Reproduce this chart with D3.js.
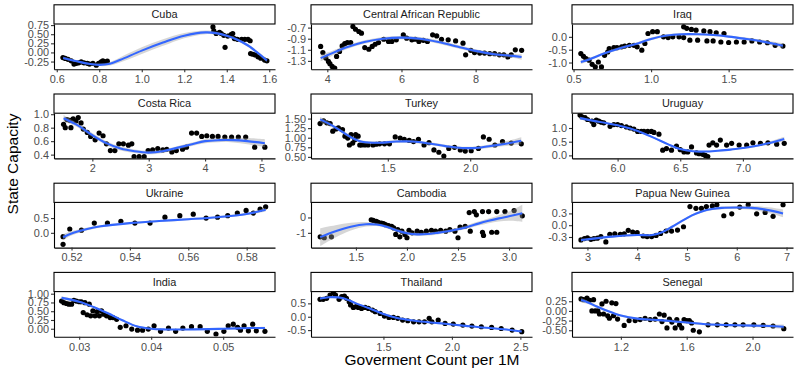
<!DOCTYPE html>
<html>
<head>
<meta charset="utf-8">
<script src="https://cdnjs.cloudflare.com/ajax/libs/d3/7.8.5/d3.min.js"></script>
<style>
    body { margin: 0; background: #fff; }
    svg { display: block; font-family: "Liberation Sans", Arial, sans-serif; }
</style>
</head>
<body>
<svg width="798" height="372"></svg>
<script>
// facet order, left to right, top to bottom
let countries = ['Cuba', 'Central African Republic', 'Iraq',
                 'Costa Rica', 'Turkey', 'Uruguay',
                 'Ukraine', 'Cambodia', 'Papua New Guinea',
                 'India', 'Thailand', 'Senegal'];

// points are [gov count per 1M, state capacity]
// fits are [x, loess fit, half width of the band]
let cubaPts = [[0.629,-0.14],[0.64,-0.165],[0.653,-0.19],[0.668,-0.23],[0.681,-0.32],[0.692,-0.30],[0.703,-0.285],
    [0.715,-0.26],[0.728,-0.285],[0.744,-0.30],[0.754,-0.32],[0.77,-0.30],[0.786,-0.35],[0.797,-0.30],[0.809,-0.26],
    [0.817,-0.23],[0.828,-0.26],[0.838,-0.24],[1.335,0.70],[1.339,0.59],[1.35,0.52],[1.366,0.55],[1.374,0.52],
    [1.386,0.47],[1.392,0.14],[1.405,0.45],[1.42,0.49],[1.428,0.52],[1.436,0.38],[1.45,0.36],[1.47,0.36],[1.485,0.36],
    [1.50,0.36],[1.51,0.32],[1.512,-0.03],[1.523,-0.05],[1.534,-0.07],[1.547,-0.12],[1.56,-0.16],[1.578,-0.21],[1.589,-0.23]];
let cubaFit = [[0.63,-0.15,0.04],[0.70,-0.25,0.03],[0.75,-0.31,0.03],[0.80,-0.34,0.035],[0.85,-0.31,0.05],
    [0.90,-0.20,0.07],[1.0,0.05,0.09],[1.1,0.27,0.09],[1.2,0.46,0.07],[1.3,0.55,0.05],[1.35,0.53,0.04],[1.4,0.46,0.035],
    [1.45,0.35,0.035],[1.5,0.19,0.04],[1.55,-0.03,0.04],[1.589,-0.22,0.05]];

let carPts = [[3.82,-1.04],[3.88,-1.15],[3.96,-1.25],[4.03,-1.31],[4.07,-1.35],[4.13,-1.40],[4.2,-1.43],[4.25,-1.22],
    [4.33,-1.13],[4.4,-1.03],[4.47,-0.99],[4.54,-0.97],[4.63,-0.97],[4.69,-0.68],[4.76,-0.73],[4.85,-0.77],[4.92,-0.80],
    [5.01,-1.06],[5.12,-1.09],[5.21,-1.04],[5.29,-1.0],[5.38,-0.97],[5.52,-0.91],[5.65,-0.95],[5.74,-0.95],[5.86,-0.92],
    [6.05,-0.83],[6.14,-0.89],[6.28,-0.92],[6.37,-0.91],[6.47,-0.95],[6.59,-0.93],[6.7,-0.95],[6.84,-0.83],[6.95,-0.85],
    [7.08,-0.91],[7.26,-0.92],[7.46,-0.94],[7.66,-0.98],[7.73,-1.19],[7.87,-1.11],[7.97,-1.15],[8.11,-1.16],[8.24,-1.16],
    [8.38,-1.17],[8.51,-1.17],[8.64,-1.19],[8.76,-1.19],[8.87,-1.23],[8.96,-1.19],[9.07,-1.10],[9.24,-1.11]];
let carFit = [[3.82,-1.25,0.06],[4.0,-1.2,0.05],[4.5,-1.06,0.035],[5.0,-0.96,0.03],[5.5,-0.9,0.03],[6.0,-0.88,0.03],
    [6.5,-0.9,0.03],[7.0,-0.96,0.03],[7.5,-1.04,0.03],[8.0,-1.12,0.03],[8.5,-1.18,0.03],[9.0,-1.21,0.035],[9.24,-1.23,0.05]];

let iraqPts = [[0.547,-0.65],[0.564,-0.76],[0.58,-0.85],[0.6,-0.91],[0.62,-1.07],[0.64,-1.17],[0.66,-0.98],[0.68,-1.17],
    [0.70,-0.72],[0.72,-0.59],[0.73,-0.46],[0.76,-0.42],[0.78,-0.42],[0.81,-0.39],[0.83,-0.36],[0.86,-0.33],[0.89,-0.33],
    [0.91,-0.39],[0.94,-0.52],[0.96,-0.26],[0.98,0.13],[1.01,0.2],[1.04,0.2],[1.08,0.0],[1.11,-0.03],[1.14,0.0],[1.18,0.0],
    [1.21,0.39],[1.23,0.33],[1.21,-0.03],[1.25,-0.13],[1.26,0.29],[1.29,0.26],[1.30,-0.13],[1.34,0.23],[1.36,-0.16],
    [1.38,0.2],[1.40,-0.16],[1.42,0.16],[1.45,-0.2],[1.47,0.13],[1.5,-0.22],[1.55,-0.2],[1.60,-0.2],[1.65,-0.16],
    [1.70,-0.2],[1.75,-0.23],[1.8,-0.33],[1.85,-0.36]];
let iraqFit = [[0.547,-0.98,0.08],[0.6,-0.88,0.06],[0.7,-0.64,0.05],[0.8,-0.44,0.05],[0.9,-0.28,0.05],[1.0,-0.08,0.05],
    [1.1,0.05,0.05],[1.2,0.1,0.05],[1.3,0.1,0.04],[1.4,0.07,0.04],[1.5,0.01,0.04],[1.6,-0.07,0.05],[1.7,-0.16,0.06],
    [1.8,-0.28,0.08],[1.85,-0.35,0.1]];

let costaPts = [[1.49,0.85],[1.52,0.80],[1.55,0.92],[1.6,0.91],[1.62,0.80],[1.66,0.93],[1.71,0.90],[1.75,0.95],[1.80,0.87],
    [1.84,0.78],[1.91,0.73],[1.97,0.67],[2.05,0.62],[2.12,0.72],[2.19,0.68],[2.25,0.56],[2.32,0.46],[2.4,0.46],[2.47,0.56],
    [2.55,0.56],[2.64,0.54],[2.70,0.56],[2.74,0.37],[2.83,0.37],[2.92,0.37],[2.99,0.46],[3.07,0.47],[3.16,0.49],[3.25,0.47],
    [3.32,0.48],[3.41,0.44],[3.49,0.46],[3.6,0.48],[3.67,0.51],[3.76,0.72],[3.85,0.72],[3.94,0.67],[4.03,0.68],[4.13,0.67],
    [4.23,0.67],[4.35,0.66],[4.47,0.66],[4.59,0.66],[4.72,0.66],[4.88,0.51],[5.06,0.51]];
let costaFit = [[1.49,0.94,0.05],[1.75,0.83,0.03],[2.0,0.69,0.03],[2.25,0.57,0.03],[2.5,0.49,0.03],[2.75,0.45,0.025],
    [3.0,0.43,0.025],[3.25,0.45,0.025],[3.5,0.5,0.025],[3.75,0.55,0.025],[4.0,0.6,0.03],[4.25,0.615,0.03],[4.5,0.615,0.035],
    [4.75,0.6,0.045],[5.06,0.57,0.06]];

let turkeyPts = [[1.089,1.37],[1.11,1.44],[1.13,1.39],[1.15,1.37],[1.166,1.17],[1.186,1.23],[1.2,1.26],[1.225,1.21],
    [1.24,1.04],[1.257,0.99],[1.267,0.81],[1.277,1.08],[1.287,0.86],[1.30,0.95],[1.305,1.08],[1.32,1.04],[1.33,0.81],
    [1.34,0.81],[1.36,0.81],[1.38,0.81],[1.41,0.81],[1.43,0.83],[1.45,0.84],[1.48,0.84],[1.51,0.84],[1.545,1.02],
    [1.575,0.99],[1.60,0.96],[1.63,0.93],[1.656,0.90],[1.686,0.96],[1.72,0.81],[1.75,0.87],[1.78,0.68],[1.81,0.62],
    [1.84,0.52],[1.87,0.72],[1.905,0.75],[1.94,0.68],[1.97,0.65],[2.006,0.66],[2.05,0.72],[2.08,1.02],[2.115,0.96],
    [2.15,0.81],[2.196,0.90],[2.249,0.86],[2.31,0.84]];
let turkeyFit = [[1.089,1.48,0.07],[1.15,1.35,0.05],[1.2,1.22,0.04],[1.25,1.08,0.04],[1.3,0.96,0.035],[1.35,0.89,0.035],
    [1.45,0.87,0.035],[1.55,0.9,0.035],[1.65,0.9,0.035],[1.75,0.85,0.035],[1.85,0.78,0.035],[1.95,0.73,0.035],
    [2.05,0.74,0.04],[2.15,0.8,0.05],[2.25,0.87,0.07],[2.31,0.92,0.09]];

let uruguayPts = [[5.70,1.475],[5.715,1.41],[5.74,1.375],[5.76,1.31],[5.795,1.25],[5.81,1.125],[5.83,1.29],[5.85,1.25],
    [5.87,1.21],[5.89,1.19],[5.94,1.06],[5.97,1.125],[6.0,1.125],[6.03,1.09],[6.07,1.04],[6.1,1.0],[6.13,0.96],[6.16,0.875],
    [6.19,0.875],[6.21,0.875],[6.24,0.875],[6.27,0.875],[6.29,0.84],[6.33,0.775],[6.36,0.19],[6.39,0.25],[6.43,0.19],
    [6.47,0.34],[6.5,0.21],[6.53,0.125],[6.56,0.125],[6.59,0.31],[6.63,0.09],[6.65,0.06],[6.68,0.04],[6.70,0.0],
    [6.72,-0.04],[6.73,0.375],[6.76,0.46],[6.79,0.375],[6.82,0.56],[6.87,0.375],[6.91,0.44],[6.97,0.375],[7.03,0.375],
    [7.08,0.46],[7.14,0.44],[7.2,0.46],[7.27,0.41],[7.33,0.44]];
let uruguayFit = [[5.70,1.36,0.05],[5.8,1.27,0.03],[5.9,1.19,0.03],[6.0,1.1,0.03],[6.1,0.98,0.03],[6.2,0.82,0.03],
    [6.3,0.62,0.03],[6.4,0.41,0.03],[6.5,0.23,0.03],[6.6,0.15,0.03],[6.7,0.14,0.03],[6.8,0.17,0.03],[6.9,0.21,0.03],
    [7.0,0.27,0.035],[7.1,0.34,0.04],[7.2,0.44,0.05],[7.33,0.6,0.08]];

let ukrainePts = [[0.5171,-0.39],[0.5171,-0.13],[0.5194,0.13],[0.5234,0.09],[0.5278,0.33],[0.5323,0.33],[0.5369,0.39],
    [0.5417,0.33],[0.5469,0.33],[0.552,0.53],[0.5571,0.58],[0.5617,0.63],[0.5661,0.5],[0.570,0.53],[0.5735,0.58],
    [0.5768,0.67],[0.5798,0.76],[0.5823,0.67],[0.5846,0.8],[0.5865,0.88]];
let ukraineFit = [[0.5171,-0.15,0.1],[0.52,-0.02,0.07],[0.525,0.12,0.05],[0.53,0.22,0.04],[0.54,0.33,0.035],
    [0.55,0.4,0.035],[0.56,0.46,0.035],[0.57,0.53,0.035],[0.58,0.64,0.04],[0.5865,0.78,0.06]];

let cambodiaPts = [[1.15,-1.26],[1.19,-1.32],[1.26,-1.26],[1.65,-0.15],[1.67,-0.19],[1.70,-0.26],[1.72,-0.32],[1.75,-0.36],
    [1.77,-0.4],[1.79,-0.47],[1.82,-0.53],[1.85,-0.57],[1.87,-0.68],[1.89,-1.1],[1.91,-0.79],[1.93,-1.26],[1.95,-0.89],
    [1.98,-1.1],[2.0,-1.32],[2.02,-0.83],[2.05,-1.0],[2.1,-0.89],[2.14,-0.96],[2.19,-0.89],[2.24,-0.83],[2.28,-0.89],
    [2.33,-0.83],[2.38,-0.89],[2.42,-0.79],[2.47,-0.89],[2.5,-1.32],[2.52,-0.62],[2.57,-0.57],[2.62,-0.89],[2.61,0.32],
    [2.66,0.38],[2.68,0.17],[2.74,0.38],[2.74,-0.96],[2.75,-1.17],[2.8,0.38],[2.83,-0.96],[2.88,-0.96],[2.88,0.38],
    [2.96,0.38],[3.05,0.45],[3.13,0.11]];
let cambodiaFit = [[1.15,-1.28,0.58],[1.3,-0.9,0.4],[1.45,-0.6,0.25],[1.6,-0.44,0.15],[1.7,-0.46,0.1],[1.8,-0.6,0.1],
    [1.9,-0.84,0.1],[2.0,-1.03,0.1],[2.1,-1.1,0.1],[2.2,-1.08,0.1],[2.3,-1.0,0.1],[2.4,-0.9,0.1],[2.5,-0.77,0.1],
    [2.6,-0.6,0.12],[2.7,-0.4,0.13],[2.8,-0.22,0.15],[2.9,-0.06,0.2],[3.0,0.08,0.3],[3.13,0.27,0.55]];

let pngPts = [[2.87,-0.375],[2.94,-0.34],[3.0,-0.32],[3.07,-0.36],[3.13,-0.34],[3.2,-0.33],[3.27,-0.29],[3.37,-0.425],
    [3.45,-0.23],[3.55,-0.22],[3.66,-0.23],[3.74,-0.22],[3.82,-0.13],[3.91,-0.175],[4.0,-0.19],[4.12,-0.275],[4.2,-0.29],
    [4.29,-0.29],[4.38,-0.26],[4.47,-0.21],[4.58,-0.15],[4.69,-0.15],[4.81,-0.125],[4.93,-0.04],[5.06,0.475],[5.18,0.43],
    [5.29,0.43],[5.39,0.475],[5.51,0.49],[5.6,0.52],[5.74,0.24],[5.9,0.29],[6.06,0.46],[6.23,0.52],[6.4,0.29],
    [6.57,0.325],[6.73,0.225],[6.93,0.52]];
let pngFit = [[2.87,-0.38,0.04],[3.0,-0.36,0.03],[3.5,-0.29,0.025],[4.0,-0.25,0.025],[4.3,-0.25,0.025],[4.5,-0.18,0.025],
    [4.7,-0.04,0.03],[4.9,0.11,0.03],[5.1,0.25,0.03],[5.3,0.35,0.03],[5.5,0.41,0.03],[5.7,0.44,0.035],[6.0,0.45,0.04],
    [6.3,0.44,0.05],[6.6,0.39,0.07],[6.93,0.3,0.1]];

let indiaPts = [[0.02755,0.79],[0.02787,0.745],[0.02824,0.72],[0.02856,0.70],[0.02894,0.70],[0.02926,0.81],[0.0296,0.79],
    [0.03,0.77],[0.0303,0.77],[0.03056,0.46],[0.0308,0.745],[0.0311,0.40],[0.0314,0.70],[0.0316,0.37],[0.0319,0.51],
    [0.0322,0.37],[0.0325,0.49],[0.0328,0.37],[0.0331,0.51],[0.0334,0.415],[0.0338,0.37],[0.0343,0.32],[0.0347,0.32],
    [0.0352,0.27],[0.0357,0.04],[0.0365,0.085],[0.0373,-0.01],[0.0381,-0.04],[0.0388,-0.04],[0.0396,-0.01],[0.0404,0.085],
    [0.0413,-0.075],[0.0424,0.02],[0.0434,-0.075],[0.0444,0.02],[0.0456,0.06],[0.0468,0.06],[0.0478,-0.075],[0.049,-0.15],
    [0.0501,-0.075],[0.0507,0.085],[0.0514,0.13],[0.052,0.04],[0.0524,-0.04],[0.0529,0.085],[0.0535,-0.06],[0.0541,0.13],
    [0.0546,-0.06],[0.0558,-0.075]];
let indiaFit = [[0.02755,0.88,0.05],[0.03,0.77,0.03],[0.032,0.62,0.025],[0.034,0.44,0.025],[0.036,0.24,0.025],
    [0.038,0.07,0.025],[0.04,0.0,0.025],[0.042,-0.02,0.02],[0.045,-0.02,0.02],[0.048,-0.01,0.02],[0.05,0.0,0.02],
    [0.052,0.01,0.025],[0.054,0.02,0.03],[0.0558,0.02,0.04]];

let thailandPts = [[1.037,0.65],[1.06,0.65],[1.085,0.69],[1.11,0.81],[1.134,0.9],[1.15,0.81],[1.176,0.65],[1.195,0.75],
    [1.215,0.775],[1.23,0.69],[1.25,0.56],[1.26,0.44],[1.28,0.35],[1.3,0.375],[1.317,0.35],[1.34,0.31],[1.366,0.35],
    [1.39,0.31],[1.42,0.25],[1.44,0.19],[1.476,0.125],[1.507,0.025],[1.54,-0.025],[1.573,-0.025],[1.605,-0.06],
    [1.64,-0.125],[1.678,-0.15],[1.72,-0.19],[1.76,-0.19],[1.8,-0.19],[1.834,-0.06],[1.854,-0.19],[1.9,-0.125],
    [1.95,-0.25],[2.01,-0.275],[2.08,-0.31],[2.146,-0.35],[2.215,-0.375],[2.29,-0.4],[2.36,-0.44],[2.44,-0.5],[2.51,-0.56]];
let thailandFit = [[1.037,0.68,0.05],[1.1,0.73,0.03],[1.2,0.7,0.03],[1.3,0.5,0.03],[1.4,0.31,0.03],[1.5,0.1,0.03],
    [1.6,-0.05,0.025],[1.7,-0.13,0.025],[1.8,-0.19,0.025],[1.9,-0.24,0.025],[2.0,-0.29,0.025],[2.1,-0.34,0.025],
    [2.2,-0.39,0.025],[2.3,-0.43,0.03],[2.4,-0.48,0.03],[2.51,-0.55,0.04]];

let senegalPts = [[0.958,0.31],[0.974,0.29],[0.994,0.33],[1.01,0.275],[1.024,0.0],[1.034,0.29],[1.044,0.0],[1.06,0.0],
    [1.07,-0.08],[1.085,0.18],[1.095,-0.08],[1.11,0.25],[1.12,-0.125],[1.13,-0.19],[1.145,0.21],[1.155,-0.125],[1.17,0.19],
    [1.18,-0.21],[1.22,-0.375],[1.25,-0.25],[1.287,-0.25],[1.317,-0.225],[1.347,-0.19],[1.378,-0.225],[1.408,-0.21],
    [1.434,-0.08],[1.45,-0.275],[1.463,-0.11],[1.48,-0.44],[1.495,-0.21],[1.51,-0.29],[1.53,-0.44],[1.54,-0.225],
    [1.556,-0.36],[1.57,-0.44],[1.584,-0.225],[1.6,-0.25],[1.616,-0.25],[1.63,-0.31],[1.64,-0.5],[1.677,-0.54],
    [1.73,-0.36],[1.786,-0.36],[1.84,-0.36],[1.893,-0.36],[1.943,-0.36],[2.008,-0.36],[2.065,-0.375],[2.125,-0.39],[2.19,-0.46]];
let senegalFit = [[0.958,0.28,0.06],[1.0,0.22,0.04],[1.05,0.12,0.035],[1.1,0.03,0.035],[1.15,-0.05,0.03],[1.2,-0.12,0.03],
    [1.3,-0.2,0.03],[1.4,-0.23,0.03],[1.5,-0.26,0.03],[1.6,-0.3,0.03],[1.7,-0.34,0.03],[1.8,-0.36,0.03],[1.9,-0.37,0.03],
    [2.0,-0.38,0.035],[2.1,-0.39,0.04],[2.19,-0.41,0.06]];

// free scales: limits of every panel
let xLimits = [[0.587,1.627],[3.56,9.52],[0.49,1.915],[1.32,5.24],[1.034,2.375],[5.636,7.40],
               [0.514,0.5897],[1.06,3.225],[2.69,7.13],[0.0265,0.0572],[0.971,2.585],[0.903,2.246]];
let yLimits = [[-0.46,0.78],[-1.45,-0.635],[-1.26,0.5],[0.344,1.015],[0.46,1.64],[-0.11,1.54],
               [-0.5,1.03],[-1.96,0.98],[-0.57,0.58],[-0.23,1.06],[-0.75,0.94],[-0.67,0.5]];

let xTickLabels = [['0.6','0.8','1.0','1.2','1.4','1.6'],['4','6','8'],['0.5','1.0','1.5'],
                   ['2','3','4','5'],['1.5','2.0'],['6.0','6.5','7.0'],
                   ['0.52','0.54','0.56','0.58'],['1.5','2.0','2.5','3.0'],['3','4','5','6','7'],
                   ['0.03','0.04','0.05'],['1.5','2.0','2.5'],['1.2','1.6','2.0']];
let yTickLabels = [['-0.25','0.00','0.25','0.50','0.75'],['-1.3','-1.1','-0.9','-0.7'],['-1.0','-0.5','0.0'],
                   ['0.4','0.6','0.8','1.0'],['0.50','0.75','1.00','1.25','1.50'],['0.0','0.5','1.0'],
                   ['0.0','0.5'],['-1','0'],['-0.3','0.0','0.3'],
                   ['0.00','0.25','0.50','0.75','1.00'],['-0.5','0.0','0.5'],['-0.50','-0.25','0.00','0.25']];

let allPts = [cubaPts, carPts, iraqPts, costaPts, turkeyPts, uruguayPts,
              ukrainePts, cambodiaPts, pngPts, indiaPts, thailandPts, senegalPts];
let allFits = [cubaFit, carFit, iraqFit, costaFit, turkeyFit, uruguayFit,
               ukraineFit, cambodiaFit, pngFit, indiaFit, thailandFit, senegalFit];

// layout
let colLeft = [54, 311, 572],
    panelW = 221,
    rowTop = 4.3,
    rowStep = 89.2,
    stripH = 19.7,
    panelH = 45.2,
    fontAxis = 10.9;

let svg = d3.select('svg');

countries.forEach(function(name, i) {
    let left = colLeft[i % 3],
        top = rowTop + Math.floor(i / 3) * rowStep;

    let g = svg.append('g')
        .attr('transform', `translate(${left},${top})`);

    let x = d3.scaleLinear().domain(xLimits[i]).range([0, panelW]),
        y = d3.scaleLinear().domain(yLimits[i]).range([stripH + panelH, stripH]);

    svg.append('clipPath')
        .attr('id', 'clip' + i)
        .append('rect')
        .attr('x', 0).attr('y', stripH)
        .attr('width', panelW).attr('height', panelH);

    let panel = g.append('g').attr('clip-path', `url(#clip${i})`);

    panel.selectAll('circle')
        .data(allPts[i])
        .enter()
        .append('circle')
        .attr('cx', d => x(d[0]))
        .attr('cy', d => y(d[1]))
        .attr('r', 2.6)
        .attr('fill', '#000');

    let band = d3.area()
        .x(d => x(d[0]))
        .y0(d => y(d[1] - d[2]))
        .y1(d => y(d[1] + d[2]))
        .curve(d3.curveCatmullRom);

    let line = d3.line()
        .x(d => x(d[0]))
        .y(d => y(d[1]))
        .curve(d3.curveCatmullRom);

    panel.append('path')
        .attr('d', band(allFits[i]))
        .attr('fill', '#999999')
        .attr('fill-opacity', 0.4);

    panel.append('path')
        .attr('d', line(allFits[i]))
        .attr('fill', 'none')
        .attr('stroke', '#3366FF')
        .attr('stroke-width', 2.1);

    // strip with country name
    g.append('rect')
        .attr('x', 0).attr('y', 0.5)
        .attr('width', panelW).attr('height', stripH - 0.5)
        .attr('fill', '#fff')
        .attr('stroke', '#000')
        .attr('stroke-width', 1.1);

    g.append('text')
        .attr('x', panelW / 2)
        .attr('y', stripH / 2 + 4)
        .attr('text-anchor', 'middle')
        .attr('font-size', fontAxis)
        .attr('fill', '#1a1a1a')
        .text(name);

    // axes
    let xt = xTickLabels[i], yt = yTickLabels[i];

    let xAxis = g.append('g')
        .attr('transform', `translate(0,${stripH + panelH})`)
        .call(d3.axisBottom(x)
            .tickValues(xt.map(Number))
            .tickFormat((d, k) => xt[k])
            .tickSize(3).tickSizeOuter(0).tickPadding(3));

    let yAxis = g.append('g')
        .call(d3.axisLeft(y)
            .tickValues(yt.map(Number))
            .tickFormat((d, k) => yt[k])
            .tickSize(3).tickSizeOuter(0).tickPadding(2));

    [xAxis, yAxis].forEach(function(ax) {
        ax.attr('font-family', null).attr('font-size', fontAxis);
        ax.select('.domain').attr('stroke', '#000').attr('stroke-width', 1.1);
        ax.selectAll('.tick line').attr('stroke', '#333').attr('stroke-width', 1.1);
        ax.selectAll('.tick text').attr('fill', '#4d4d4d');
    });
});

// axis titles
svg.append('text')
    .attr('x', 432)
    .attr('y', 364.5)
    .attr('text-anchor', 'middle')
    .attr('font-size', 15.5)
    .attr('fill', '#000')
    .text('Goverment Count per 1M');

svg.append('text')
    .attr('transform', 'translate(18.3,164) rotate(-90)')
    .attr('text-anchor', 'middle')
    .attr('font-size', 15.5)
    .attr('fill', '#000')
    .text('State Capacity');
</script>
</body>
</html>
